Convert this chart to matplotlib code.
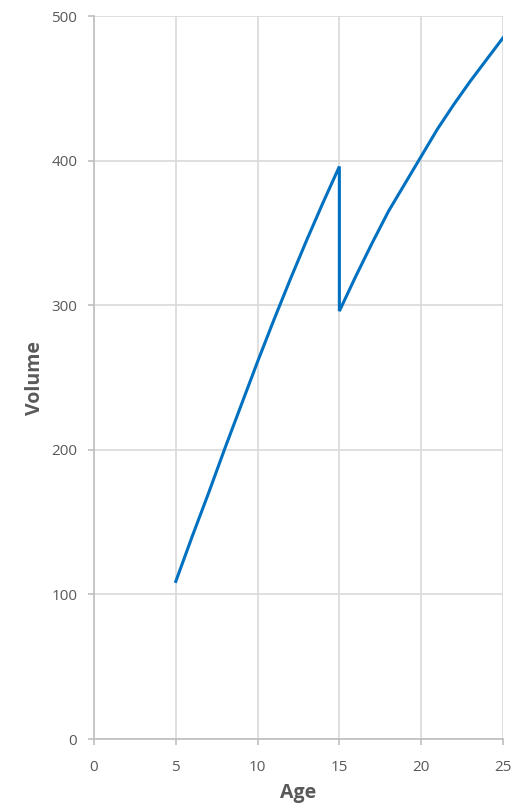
import matplotlib
matplotlib.use("Agg")
import matplotlib.pyplot as plt

# Data
age = [5, 6, 7, 8, 9, 10, 11, 12, 13, 14, 15, 15, 16, 17, 18, 19, 20, 21, 22, 23, 24, 25]
volume = [109, 140, 170, 201, 231, 261, 290, 318, 345, 371, 396,
          296, 320, 343, 365, 384, 403, 422, 439, 455, 470, 485]

x_ticks = [0, 5, 10, 15, 20, 25]
y_ticks = [0, 100, 200, 300, 400, 500]

plt.rcParams['font.family'] = ['Open Sans', 'DejaVu Sans']

fig = plt.figure(figsize=(5.25, 8.09), dpi=100)
ax = fig.add_axes([0.179, 0.0865, 0.779, 0.8935])

ax.plot(age, volume, color='#0070c0', linewidth=2.2, solid_joinstyle='miter')

ax.set_xlim(0, 25)
ax.set_ylim(0, 500)
ax.set_xticks(x_ticks)
ax.set_yticks(y_ticks)

ax.grid(True, color='#d9d9d9', linewidth=1.2)
ax.set_axisbelow(True)
for side in ['top', 'right']:
    ax.spines[side].set_visible(False)
for side in ['left', 'bottom']:
    ax.spines[side].set_color('#bfbfbf')
    ax.spines[side].set_linewidth(1.2)

ax.tick_params(axis='both', colors='#bfbfbf', labelcolor='#595959',
               labelsize=11, length=4, width=1.2, direction='out')
ax.tick_params(axis='x', pad=11)
ax.tick_params(axis='y', pad=8)

ax.set_xlabel('Age', fontsize=14, fontweight='bold', color='#595959', labelpad=6)
ax.set_ylabel('Volume', fontsize=14, fontweight='bold', color='#595959', labelpad=4.5)

plt.savefig('out.png', dpi=100)
